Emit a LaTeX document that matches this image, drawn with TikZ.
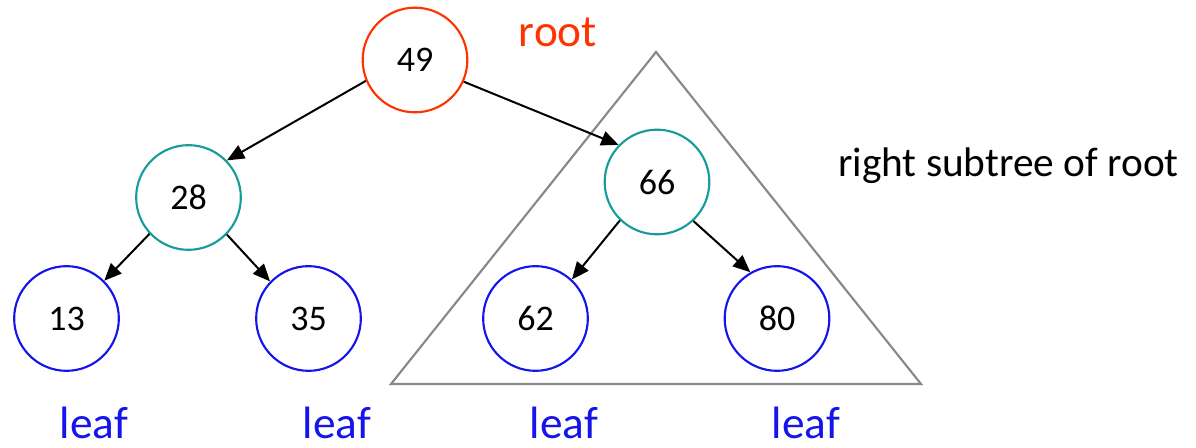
\documentclass[tikz,border=0pt]{standalone}
\usepackage{fontspec}
\setmainfont{Carlito}
\usetikzlibrary{arrows.meta}
\definecolor{rootred}{RGB}{255,51,0}
\definecolor{innerteal}{RGB}{22,156,156}
\definecolor{leafblue}{RGB}{20,20,235}
\definecolor{framegray}{RGB}{136,136,136}
\begin{document}
\begin{tikzpicture}[x=0.75pt,y=-0.75pt,
  keynode/.style={circle,draw,line width=1.6pt,minimum size=78.5pt,inner sep=0pt,
    font=\fontsize{27}{32}\selectfont},
  rootnode/.style={keynode,draw=rootred},
  midnode/.style={keynode,draw=innerteal},
  leafnode/.style={keynode,draw=leafblue},
  arr/.style={-{Triangle[length=13pt,width=11pt]},line width=1.5pt,black},
  tag/.style={inner sep=0pt,anchor=base,font=\fontsize{34}{40}\selectfont},
  leaftag/.style={tag,text=leafblue}]
\useasboundingbox (0,0) rectangle (1196,448);

% subtree outline
\coordinate (tA) at (656,52);
\coordinate (tB) at (391,384);
\coordinate (tC) at (921,384);
\draw[framegray,line width=1.6pt,line join=miter] (tA) -- (tB) -- (tC) -- cycle;

% tree nodes
\node[rootnode] (n49) at (415,60) {49};
\node[midnode]  (n28) at (188.5,197.5) {28};
\node[midnode]  (n66) at (657,182) {66};
\node[leafnode] (n13) at (66.5,318.5) {13};
\node[leafnode] (n35) at (308.5,318.5) {35};
\node[leafnode] (n62) at (535.5,318.5) {62};
\node[leafnode] (n80) at (777,318.5) {80};

% edges
\draw[arr] (n49.203) -- (n28.44);
\draw[arr] (n49.336) -- (n66.136);
\draw[arr] (n28.223) -- (n13.45);
\draw[arr] (n28.316) -- (n35.136);
\draw[arr] (n66.226) -- (n62.47);
\draw[arr] (n66.313) -- (n80.120);

% labels
\node[tag,text=rootred] (lroot) at (558,47) {root};
\node[inner sep=0pt,anchor=base west,font=\fontsize{31}{37}\selectfont] (lsub) at (838,177) {right subtree of root};
\node[leaftag] (l13) at (94,439) {leaf};
\node[leaftag] (l35) at (337,439) {leaf};
\node[leaftag] (l62) at (564,439) {leaf};
\node[leaftag] (l80) at (806,439) {leaf};
\end{tikzpicture}
\end{document}
